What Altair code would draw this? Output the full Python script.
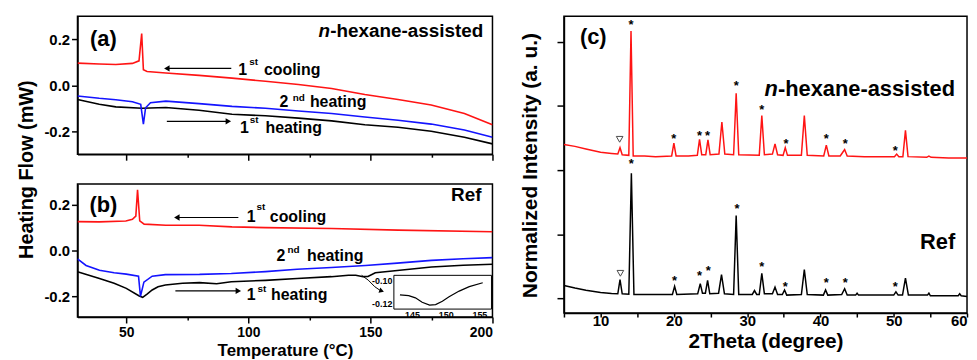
import altair as alt
import pandas as pd

FONT = "Liberation Sans"
RED = "#ff1414"
BLUE = "#1414ff"
BLACK = "#000000"

# ---------------- DSC panel (a): n-hexane-assisted ----------------
a_cool_T = [30, 38.9, 45.7, 52.5, 55.2, 56.3, 57.0, 58.5, 66.2, 79.8, 93.3, 107.0, 120.5, 134.1, 147.7, 161.3, 174.9, 188.5, 200]
a_cool_v = [0.096, 0.092, 0.090, 0.095, 0.106, 0.225, 0.067, 0.060, 0.053, 0.043, 0.031, 0.017, 0.003, -0.014, -0.040, -0.062, -0.086, -0.123, -0.172]
a_heat2_T = [30, 38.9, 45.7, 52.5, 55.9, 57.0, 57.9, 59.9, 66.2, 79.8, 93.3, 107.0, 120.5, 134.1, 147.7, 161.3, 174.9, 188.5, 200]
a_heat2_v = [-0.047, -0.057, -0.063, -0.072, -0.083, -0.169, -0.098, -0.076, -0.069, -0.080, -0.092, -0.100, -0.112, -0.123, -0.138, -0.152, -0.169, -0.195, -0.226]
a_heat1_T = [30, 38.9, 45.7, 56.5, 66.2, 79.8, 93.3, 107.0, 120.5, 134.1, 147.7, 161.3, 174.9, 188.5, 200]
a_heat1_v = [-0.062, -0.083, -0.094, -0.100, -0.097, -0.109, -0.126, -0.133, -0.143, -0.155, -0.172, -0.183, -0.200, -0.226, -0.255]

# ---------------- DSC panel (b): Ref ----------------
b_cool_T = [30, 38.9, 49.8, 52.5, 53.9, 54.6, 55.5, 57.3, 66.2, 79.8, 93.3, 107.0, 134.1, 161.3, 200]
b_cool_v = [0.126, 0.125, 0.129, 0.136, 0.150, 0.265, 0.129, 0.115, 0.110, 0.110, 0.103, 0.100, 0.096, 0.089, 0.082]
b_heat2_T = [30, 33.5, 39, 45, 50, 55, 55.8, 57.2, 60.6, 66, 80, 93, 107, 120, 134, 148, 161, 175, 188, 200]
b_heat2_v = [-0.036, -0.065, -0.086, -0.097, -0.103, -0.112, -0.200, -0.138, -0.112, -0.105, -0.104, -0.100, -0.092, -0.082, -0.074, -0.065, -0.055, -0.043, -0.036, -0.031]
b_heat1_T = [30, 39, 45, 50, 55.3, 56.7, 58.5, 60.6, 63, 66, 73, 80, 87, 93, 107, 120, 134, 141, 144, 147, 149, 152, 160, 175, 188, 200]
b_heat1_v = [-0.093, -0.122, -0.143, -0.165, -0.198, -0.204, -0.190, -0.172, -0.158, -0.150, -0.143, -0.140, -0.145, -0.136, -0.130, -0.122, -0.114, -0.108, -0.108, -0.114, -0.113, -0.097, -0.088, -0.072, -0.064, -0.060]

# inset of (b)
inset_T = [143.2, 144.5, 145.5, 146.5, 147.6, 148.5, 149.5, 150.5, 152.0, 153.5, 155.5]
inset_v = [-0.1123, -0.1130, -0.1150, -0.1190, -0.1215, -0.1210, -0.1180, -0.1140, -0.1090, -0.1050, -0.1016]

# ---------------- XRD panel (c) ----------------
xrd_red_x = [5.0, 6.5, 8.0, 10.0, 11.5, 12.35, 12.65, 12.95, 13.85, 14.15, 14.45, 16.0, 17.5, 19.7, 20.0, 20.3,
             22.0, 23.2, 23.5, 23.8, 24.35, 24.65, 24.95, 26.15, 26.55, 26.95, 28.15, 28.5, 28.85, 31.65, 32.0,
             32.35, 33.45, 33.8, 34.15, 34.9, 35.2, 35.5, 37.4, 37.8, 38.2, 40.45, 40.8, 41.15, 42.7, 43.0, 43.3,
             43.65, 46.0, 48.0, 50.1, 50.4, 50.7, 51.25, 51.6, 51.95, 54.5, 54.8, 55.1, 57.5, 60.0]
xrd_red_y = [2.40, 2.37, 2.33, 2.28, 2.26, 2.25, 2.35, 2.24, 2.23, 4.17, 2.22, 2.22, 2.21, 2.22, 2.42, 2.22,
             2.22, 2.23, 2.48, 2.24, 2.24, 2.47, 2.24, 2.25, 2.75, 2.25, 2.24, 3.20, 2.24, 2.23, 2.85,
             2.24, 2.25, 2.41, 2.24, 2.23, 2.35, 2.23, 2.23, 2.85, 2.23, 2.22, 2.39, 2.22, 2.22, 2.27, 2.32,
             2.22, 2.21, 2.21, 2.21, 2.25, 2.21, 2.21, 2.62, 2.21, 2.20, 2.22, 2.20, 2.19, 2.19]
xrd_blk_x = [5.0, 6.5, 8.0, 10.0, 11.5, 12.35, 12.65, 12.95, 13.85, 14.2, 14.55, 17.0, 19.8, 20.1, 20.4,
             23.25, 23.6, 23.9, 24.3, 24.6, 24.9, 26.1, 26.5, 26.9, 28.15, 28.5, 28.85, 30.7, 31.0, 31.3,
             31.65, 32.0, 32.35, 33.45, 33.8, 34.15, 34.8, 35.1, 35.4, 37.4, 37.8, 38.2, 40.4, 40.7, 41.0,
             42.9, 43.3, 43.65, 44.8, 45.0, 45.2, 50.0, 50.3, 50.6, 51.2, 51.6, 52.0, 54.6, 54.8, 55.0,
             58.8, 59.0, 59.2, 60.0]
xrd_blk_y = [0.20, 0.16, 0.125, 0.09, 0.075, 0.07, 0.29, 0.07, 0.065, 1.95, 0.06, 0.06, 0.06, 0.186, 0.06,
             0.07, 0.23, 0.08, 0.08, 0.28, 0.07, 0.08, 0.37, 0.07, 0.06, 1.29, 0.06, 0.06, 0.12, 0.06,
             0.06, 0.39, 0.07, 0.07, 0.175, 0.06, 0.06, 0.13, 0.05, 0.06, 0.45, 0.06, 0.05, 0.13, 0.05,
             0.06, 0.15, 0.05, 0.05, 0.08, 0.05, 0.05, 0.10, 0.05, 0.05, 0.315, 0.05, 0.05, 0.08, 0.04,
             0.04, 0.07, 0.04, 0.03]
star_red_x = [14.15, 20.0, 23.5, 24.6, 28.5, 32.0, 35.3, 40.8, 43.4, 50.2]
star_red_y = [4.31, 2.53, 2.58, 2.58, 3.35, 2.98, 2.46, 2.53, 2.45, 2.35]
star_blk_x = [14.2, 20.1, 23.5, 24.7, 28.6, 32.0, 35.2, 40.8, 43.4, 50.2]
star_blk_y = [2.14, 0.31, 0.39, 0.47, 1.44, 0.54, 0.23, 0.28, 0.28, 0.22]
tri_x = [12.6, 12.7]
tri_y = [2.48, 0.39]


def df(x, y):
    return pd.DataFrame({"x": x, "y": y})


def minus(fmt):
    return "replace(format(datum.value, '" + fmt + "'), '\u2212', '-')"


tick_cond = {"condition": {"test": "datum.value % 50 === 0", "value": 6}, "value": 3}


def make_enc(xs, ys, xa, ya):
    def X():
        return alt.X("x:Q", scale=xs, axis=xa)

    def Y():
        return alt.Y("y:Q", scale=ys, axis=ya)
    return X, Y


def line(d, color, X, Y, w=1.6):
    return alt.Chart(d).mark_line(color=color, strokeWidth=w, clip=True).encode(x=X(), y=Y())


def text(x, y, s, X, Y, size=16, align="left", italic=False, dy=0):
    d = pd.DataFrame({"x": [x], "y": [y], "t": [s]})
    return alt.Chart(d).mark_text(font=FONT, fontWeight="bold", fontSize=size, align=align,
                                  baseline="middle", fontStyle="italic" if italic else "normal",
                                  color="black", dy=dy).encode(x=X(), y=Y(), text="t:N")


def arrow(x1, x2, y, head_left, X, Y):
    d = pd.DataFrame({"x": [x1], "x2": [x2], "y": [y]})
    rule = alt.Chart(d).mark_rule(color="black", strokeWidth=1.2).encode(x=X(), x2="x2:Q", y=Y())
    hx = x1 if head_left else x2
    head = alt.Chart(pd.DataFrame({"x": [hx], "y": [y]})).mark_point(
        shape="triangle-left" if head_left else "triangle-right", filled=True, size=40,
        color="black", opacity=1).encode(x=X(), y=Y())
    return [rule, head]


def sup_label(X, Y, x1, y1, big, x2, y2, small, x3, word):
    return [text(x1, y1, big, X, Y, size=16), text(x2, y2, small, X, Y, size=10),
            text(x3, y1, word, X, Y, size=16)]


# ---------------- panel (a) ----------------
xs_a = alt.Scale(domain=[30, 200], nice=False, zero=False)
ys_a = alt.Scale(domain=[-0.3, 0.3], nice=False, zero=False)
xa_a = alt.Axis(values=[50, 75, 100, 125, 150, 175, 200], labels=False, title=None, tickSize=tick_cond)
ya_a = alt.Axis(values=[-0.2, 0, 0.2], labelExpr=minus(".1f"), tickSize=6, labelPadding=2,
                title="Heating Flow (mW)", titleX=-45, titleY=154, titleAngle=270, titleAlign="center",
                titleBaseline="alphabetic", titleFontSize=20)
Xa, Ya = make_enc(xs_a, ys_a, xa_a, ya_a)

layers_a = [
    line(df(a_heat1_T, a_heat1_v), BLACK, Xa, Ya),
    line(df(a_heat2_T, a_heat2_v), BLUE, Xa, Ya),
    line(df(a_cool_T, a_cool_v), RED, Xa, Ya),
    text(40.6, 0.199, "(a)", Xa, Ya, size=22, align="center"),
    text(133.5, 0.237, "n", Xa, Ya, size=19, align="right", italic=True),
    text(133.5, 0.237, "-hexane-assisted", Xa, Ya, size=19, align="left"),
]
layers_a += arrow(66.6, 93.0, 0.073, True, Xa, Ya)
layers_a += arrow(66.6, 91.8, -0.157, False, Xa, Ya)
layers_a += sup_label(Xa, Ya, 95.9, 0.065, "1", 100.4, 0.099, "st", 106.4, "cooling")
layers_a += sup_label(Xa, Ya, 112.8, -0.073, "2", 118.2, -0.054, "nd", 125.2, "heating")
layers_a += sup_label(Xa, Ya, 96.6, -0.186, "1", 100.6, -0.151, "st", 107.0, "heating")
panel_a = alt.layer(*layers_a).properties(width=418, height=139)

# ---------------- panel (b) ----------------
xs_b = alt.Scale(domain=[30, 200], nice=False, zero=False)
ys_b = alt.Scale(domain=[-0.29, 0.29], nice=False, zero=False)
xa_b = alt.Axis(values=[50, 75, 100, 125, 150, 175, 200], tickSize=tick_cond, labelPadding=3,
                labelFontSize=14, labelExpr="datum.value % 50 === 0 ? datum.label : ''",
                title="Temperature (\u00b0C)", titleFontSize=17, titleY=39, titleBaseline="alphabetic")
ya_b = alt.Axis(values=[-0.2, 0, 0.2], labelExpr=minus(".1f"), tickSize=6, labelPadding=2, title=None)
Xb, Yb = make_enc(xs_b, ys_b, xa_b, ya_b)

layers_b = [
    line(df(b_heat1_T, b_heat1_v), BLACK, Xb, Yb),
    line(df(b_heat2_T, b_heat2_v), BLUE, Xb, Yb),
    line(df(b_cool_T, b_cool_v), RED, Xb, Yb),
    text(40.6, 0.199, "(b)", Xb, Yb, size=22, align="center"),
    text(195.5, 0.24, "Ref", Xb, Yb, size=19, align="right"),
    line(df([146.4, 149.1, 151.8, 154.0], [-0.108, -0.129, -0.158, -0.174]), BLACK, Xb, Yb, w=1.0),
    alt.Chart(df([154.6], [-0.176])).mark_point(shape="triangle-right", filled=True, size=30, color="black",
                                               opacity=1, angle=20).encode(x=Xb(), y=Yb()),
]
layers_b += arrow(70.7, 95.9, 0.144, True, Xb, Yb)
layers_b += arrow(70.1, 95.9, -0.176, False, Xb, Yb)
layers_b += sup_label(Xb, Yb, 99.3, 0.145, "1", 103.3, 0.188, "st", 108.8, "cooling")
layers_b += sup_label(Xb, Yb, 111.5, -0.026, "2", 116.0, 0.002, "nd", 124.0, "heating")
layers_b += sup_label(Xb, Yb, 99.3, -0.195, "1", 103.7, -0.167, "st", 109.3, "heating")
main_b = alt.layer(*layers_b)

ixs = alt.Scale(domain=[142.3, 156.8], range=[318.7, 417], nice=False, zero=False)
iys = alt.Scale(domain=[-0.125, -0.095], range=[126, 92], nice=False, zero=False)
ixa = alt.Axis(orient="bottom", offset=-8, values=[145, 150, 155], labelFontSize=9, ticks=False,
               labelPadding=1, domain=False, title=None, labelFlush=False)
iya = alt.Axis(orient="left", offset=-318.7, values=[-0.12, -0.10], labelExpr=minus(".2f"), labelFontSize=9,
               ticks=False, labelPadding=2, domain=False, title=None)
Xi, Yi = make_enc(ixs, iys, ixa, iya)
inset_box = alt.Chart(pd.DataFrame({"x": [142.3], "x2": [156.8], "y": [-0.125], "y2": [-0.095]})).mark_rect(
    fill="white", stroke="black", strokeWidth=1).encode(x=Xi(), x2="x2:Q", y=Yi(), y2="y2:Q")
inset_line = alt.Chart(df(inset_T, inset_v)).mark_line(color="black", strokeWidth=1.2).encode(x=Xi(), y=Yi())
inset = alt.layer(inset_box, inset_line)
panel_b = alt.layer(main_b, inset).resolve_scale(x="independent", y="independent").properties(width=418, height=134)

# ---------------- panel (c) ----------------
xs_c = alt.Scale(domain=[5, 60], nice=False, zero=False)
ys_c = alt.Scale(domain=[-0.23, 4.4], nice=False, zero=False)
xa_c = alt.Axis(values=list(range(5, 61, 5)), tickSize=4, labelPadding=-3,
                labelExpr="datum.value % 10 === 0 ? datum.label : ''",
                title="2Theta (degree)", titleFontSize=21, titleY=35, titleBaseline="alphabetic")
ya_c = alt.Axis(values=[0, 1, 2, 3, 4], labels=False, tickSize=7,
                title="Normalized Intensity (a. u.)", titleFontSize=21, titleX=-28, titleY=150,
                titleAngle=270, titleAlign="center", titleBaseline="alphabetic")
Xc, Yc = make_enc(xs_c, ys_c, xa_c, ya_c)


def stars(xv, yv):
    return alt.Chart(df(xv, yv)).mark_text(text="*", font=FONT, fontWeight="bold", fontSize=13,
                                           baseline="middle", dy=3, color="black").encode(x=Xc(), y=Yc())


layers_c = [
    line(df(xrd_blk_x, xrd_blk_y), BLACK, Xc, Yc, w=1.5),
    line(df(xrd_red_x, xrd_red_y), RED, Xc, Yc, w=1.5),
    stars(star_red_x, star_red_y),
    stars(star_blk_x, star_blk_y),
    alt.Chart(df(tri_x, tri_y)).mark_point(shape="triangle-down", filled=False, size=45, color="black",
                                           strokeWidth=1).encode(x=Xc(), y=Yc()),
    text(9.0, 4.07, "(c)", Xc, Yc, size=22, align="center"),
    text(34.2, 3.27, "n", Xc, Yc, size=22, align="right", italic=True),
    text(34.2, 3.27, "-hexane-assisted", Xc, Yc, size=22, align="left"),
    text(58.4, 0.877, "Ref", Xc, Yc, size=22, align="right"),
]
panel_c = alt.layer(*layers_c).properties(width=406, height=299)

left = alt.vconcat(panel_a, panel_b, spacing=30, bounds="flush")
chart = alt.hconcat(left, panel_c, spacing=24).properties(
    padding={"left": 8, "top": 6, "right": 0, "bottom": 0}
).configure_axis(
    labelFont=FONT, titleFont=FONT, labelFontWeight="bold", titleFontWeight="bold",
    labelColor="black", titleColor="black", domainColor="black", tickColor="black",
    domainWidth=1.5, tickWidth=1.5, grid=False, labelFontSize=15
).configure_view(stroke="black", strokeWidth=1.5)

chart.save("out.html", embed_options={"renderer": "svg", "actions": False})
